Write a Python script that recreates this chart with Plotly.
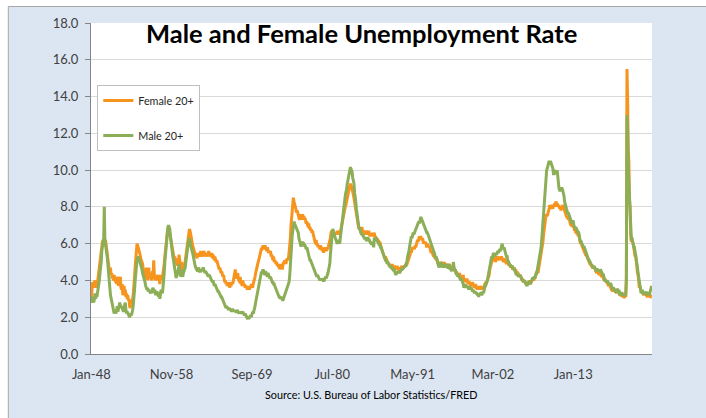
import plotly.graph_objects as go

start_year = 1948
tick_labels = ["Jan-48", "Nov-58", "Sep-69", "Jul-80", "May-91", "Mar-02", "Jan-13"]
tick_step = 130  # months between labels

female_20 = [
    3.0, 3.7, 3.9, 3.8, 3.6, 3.9, 4.0, 3.7, 3.8, 3.6, 3.9, 4.0,  # 1948
    4.2, 4.5, 4.9, 5.3, 5.6, 5.9, 6.1, 6.2, 5.9, 6.3, 6.0, 6.2,  # 1949
    5.9, 5.6, 5.4, 5.1, 4.9, 4.6, 4.5, 4.7, 4.3, 4.4, 4.1, 4.2,  # 1950
    4.0, 4.3, 4.1, 3.9, 4.2, 3.8, 4.0, 4.2, 3.7, 3.9, 4.1, 4.2,  # 1951
    3.6, 3.5, 3.8, 3.2, 3.4, 3.7, 3.3, 3.5, 3.1, 3.3, 3.0, 3.2,  # 1952
    2.9, 3.0, 2.6, 2.5, 2.8, 2.7, 2.9, 3.0, 3.3, 3.6, 4.2, 4.8,  # 1953
    5.3, 5.7, 6.0, 5.9, 5.8, 5.7, 5.5, 5.4, 5.2, 5.1, 5.0, 4.9,  # 1954
    4.6, 4.4, 4.6, 4.3, 4.1, 4.7, 4.2, 4.0, 4.3, 4.7, 4.2, 4.1,  # 1955
    4.3, 4.0, 4.2, 4.5, 4.1, 5.1, 4.3, 4.0, 4.2, 4.1, 4.3, 4.2,  # 1956
    4.0, 4.3, 4.1, 3.8, 4.2, 4.0, 4.3, 4.1, 4.4, 4.6, 4.9, 5.3,  # 1957
    5.7, 6.1, 6.3, 6.6, 6.8, 6.9, 6.8, 6.6, 6.3, 6.0, 5.8, 5.6,  # 1958
    5.6, 5.4, 5.2, 5.3, 5.0, 4.9, 5.1, 4.8, 5.2, 4.9, 5.4, 5.1,  # 1959
    4.8, 4.6, 5.0, 4.7, 4.5, 4.8, 4.9, 4.8, 5.1, 5.3, 5.6, 5.9,  # 1960
    6.2, 6.4, 6.6, 6.8, 6.7, 6.5, 6.3, 6.0, 5.9, 5.8, 5.7, 5.5,  # 1961
    5.5, 5.3, 5.4, 5.2, 5.5, 5.3, 5.4, 5.3, 5.4, 5.6, 5.3, 5.4,  # 1962
    5.5, 5.3, 5.6, 5.5, 5.3, 5.5, 5.4, 5.3, 5.5, 5.4, 5.6, 5.3,  # 1963
    5.5, 5.4, 5.3, 5.5, 5.2, 5.4, 5.2, 5.1, 5.3, 5.1, 5.0, 5.1,  # 1964
    5.0, 4.9, 4.8, 4.6, 4.7, 4.5, 4.4, 4.5, 4.3, 4.2, 4.3, 4.1,  # 1965
    3.9, 4.0, 3.8, 3.9, 3.7, 3.8, 3.7, 3.9, 3.6, 3.8, 3.7, 3.8,  # 1966
    3.9, 3.8, 4.0, 4.1, 4.3, 4.6, 4.2, 4.1, 4.3, 4.4, 4.1, 4.0,  # 1967
    3.9, 4.2, 3.8, 3.9, 3.7, 4.0, 3.9, 3.7, 3.8, 3.6, 3.7, 3.6,  # 1968
    3.6, 3.5, 3.7, 3.6, 3.5, 3.7, 3.6, 3.8, 3.7, 3.6, 3.8, 3.9,  # 1969
    4.0, 4.2, 4.4, 4.6, 4.8, 4.9, 5.0, 5.1, 5.3, 5.4, 5.6, 5.7,  # 1970
    5.7, 5.8, 5.9, 5.7, 5.8, 5.9, 5.8, 5.7, 5.6, 5.8, 5.7, 5.5,  # 1971
    5.6, 5.5, 5.6, 5.3, 5.4, 5.2, 5.1, 5.3, 5.0, 5.1, 5.0, 4.9,  # 1972
    5.0, 4.8, 4.9, 4.7, 4.9, 4.6, 4.8, 4.7, 4.9, 4.6, 4.8, 5.0,  # 1973
    4.9, 5.1, 5.0, 4.9, 5.1, 5.2, 5.1, 5.2, 5.5, 5.8, 6.2, 6.9,  # 1974
    7.4, 7.9, 8.2, 8.5, 8.3, 8.2, 8.0, 7.9, 7.7, 7.8, 7.7, 7.6,  # 1975
    7.5, 7.3, 7.4, 7.6, 7.3, 7.5, 7.6, 7.4, 7.5, 7.3, 7.4, 7.2,  # 1976
    7.1, 7.2, 7.0, 6.9, 7.1, 6.8, 6.9, 6.7, 6.8, 6.6, 6.7, 6.5,  # 1977
    6.3, 6.2, 6.1, 6.0, 6.2, 5.9, 6.0, 5.8, 5.9, 5.8, 5.7, 5.9,  # 1978
    5.8, 5.7, 5.6, 5.8, 5.5, 5.7, 5.6, 5.8, 5.7, 5.6, 5.8, 5.7,  # 1979
    5.9, 6.0, 6.1, 6.3, 6.6, 6.7, 6.6, 6.5, 6.6, 6.5, 6.6, 6.5,  # 1980
    6.6, 6.5, 6.7, 6.6, 6.5, 6.6, 6.7, 6.6, 6.8, 7.0, 7.2, 7.4,  # 1981
    7.6, 7.7, 7.9, 8.0, 8.1, 8.3, 8.4, 8.6, 8.8, 8.9, 9.1, 9.2,  # 1982
    9.2, 9.1, 9.0, 8.8, 8.7, 8.5, 8.3, 8.1, 7.9, 7.6, 7.3, 7.1,  # 1983
    7.0, 6.8, 6.9, 6.8, 6.7, 6.8, 6.9, 6.7, 6.6, 6.7, 6.6, 6.5,  # 1984
    6.6, 6.7, 6.6, 6.5, 6.6, 6.7, 6.5, 6.4, 6.5, 6.6, 6.4, 6.5,  # 1985
    6.4, 6.5, 6.6, 6.3, 6.4, 6.3, 6.2, 6.3, 6.1, 6.2, 6.0, 6.1,  # 1986
    5.9, 5.8, 5.7, 5.6, 5.5, 5.4, 5.3, 5.2, 5.3, 5.2, 5.1, 5.0,  # 1987
    5.0, 4.9, 4.8, 4.9, 4.8, 4.7, 4.8, 4.9, 4.7, 4.8, 4.7, 4.8,  # 1988
    4.7, 4.6, 4.7, 4.8, 4.6, 4.7, 4.5, 4.6, 4.7, 4.6, 4.8, 4.7,  # 1989
    4.6, 4.7, 4.8, 4.7, 4.8, 4.9, 4.8, 4.9, 5.0, 5.0, 5.1, 5.2,  # 1990
    5.4, 5.6, 5.5, 5.7, 5.8, 5.7, 5.8, 5.7, 5.9, 5.8, 5.9, 6.0,  # 1991
    6.2, 6.1, 6.3, 6.4, 6.3, 6.4, 6.3, 6.2, 6.3, 6.1, 6.0, 6.1,  # 1992
    6.0, 6.1, 5.9, 5.8, 6.0, 5.9, 5.8, 5.9, 5.7, 5.6, 5.5, 5.6,  # 1993
    5.5, 5.4, 5.3, 5.5, 5.2, 5.3, 5.1, 5.2, 5.0, 4.9, 5.0, 4.9,  # 1994
    4.9, 4.8, 4.9, 5.0, 4.8, 4.9, 4.8, 5.0, 4.9, 4.8, 4.7, 4.9,  # 1995
    4.8, 4.9, 4.7, 4.8, 4.9, 4.7, 4.8, 4.6, 4.7, 4.8, 4.6, 4.7,  # 1996
    4.5, 4.6, 4.4, 4.5, 4.3, 4.4, 4.3, 4.2, 4.4, 4.2, 4.1, 4.2,  # 1997
    4.2, 4.1, 4.3, 4.0, 4.1, 3.9, 4.1, 4.0, 4.1, 3.9, 3.8, 3.9,  # 1998
    3.9, 3.8, 3.7, 3.8, 3.7, 3.9, 3.8, 3.7, 3.6, 3.7, 3.8, 3.6,  # 1999
    3.6, 3.5, 3.7, 3.5, 3.6, 3.5, 3.7, 3.6, 3.5, 3.6, 3.5, 3.6,  # 2000
    3.7, 3.8, 3.9, 3.8, 3.9, 4.0, 4.1, 4.2, 4.3, 4.6, 4.8, 5.0,  # 2001
    5.0, 5.1, 5.2, 5.3, 5.1, 5.2, 5.0, 5.1, 5.2, 5.3, 5.2, 5.1,  # 2002
    5.2, 5.1, 5.3, 5.2, 5.3, 5.2, 5.1, 5.0, 5.2, 5.1, 5.0, 5.0,  # 2003
    4.9, 5.0, 5.0, 4.9, 4.8, 4.9, 4.8, 4.7, 4.8, 4.7, 4.6, 4.7,  # 2004
    4.6, 4.7, 4.5, 4.6, 4.4, 4.5, 4.3, 4.4, 4.3, 4.2, 4.3, 4.1,  # 2005
    4.1, 4.0, 4.1, 4.0, 3.9, 4.0, 3.9, 3.8, 3.9, 3.8, 3.9, 3.8,  # 2006
    3.9, 4.0, 3.9, 3.8, 3.9, 4.0, 4.0, 4.1, 4.0, 4.1, 4.2, 4.3,  # 2007
    4.3, 4.4, 4.5, 4.4, 4.6, 4.7, 4.9, 5.1, 5.3, 5.5, 5.8, 6.1,  # 2008
    6.5, 6.9, 7.1, 7.3, 7.5, 7.6, 7.5, 7.6, 7.7, 7.9, 8.1, 7.9,  # 2009
    8.0, 8.1, 8.0, 7.9, 8.1, 8.0, 8.2, 8.0, 8.3, 8.1, 8.2, 8.0,  # 2010
    8.0, 8.1, 7.9, 8.0, 7.8, 8.0, 7.9, 8.1, 8.0, 7.8, 7.7, 7.6,  # 2011
    7.6, 7.5, 7.4, 7.5, 7.3, 7.4, 7.3, 7.2, 7.0, 7.1, 6.9, 7.0,  # 2012
    7.0, 6.9, 6.7, 6.8, 6.6, 6.7, 6.5, 6.6, 6.4, 6.5, 6.2, 6.1,  # 2013
    6.0, 6.1, 5.9, 5.8, 5.7, 5.7, 5.6, 5.5, 5.4, 5.4, 5.3, 5.2,  # 2014
    5.1, 5.0, 5.0, 4.9, 4.9, 4.8, 4.8, 4.7, 4.7, 4.8, 4.7, 4.6,  # 2015
    4.6, 4.5, 4.4, 4.5, 4.4, 4.4, 4.3, 4.4, 4.3, 4.3, 4.2, 4.3,  # 2016
    4.2, 4.1, 4.0, 4.1, 4.0, 3.9, 3.9, 3.9, 3.8, 3.7, 3.8, 3.7,  # 2017
    3.6, 3.6, 3.5, 3.5, 3.4, 3.6, 3.5, 3.4, 3.4, 3.4, 3.3, 3.4,  # 2018
    3.4, 3.3, 3.4, 3.2, 3.3, 3.2, 3.2, 3.2, 3.1, 3.2, 3.1, 3.1,  # 2019
    3.2, 3.1, 4.2, 15.5, 13.9, 11.2, 10.5, 8.4, 8.0, 6.5, 6.1, 6.3,  # 2020
    6.0, 6.0, 5.8, 5.6, 5.3, 5.4, 5.0, 4.8, 4.4, 4.3, 3.9, 3.6,  # 2021
    3.7, 3.5, 3.4, 3.4, 3.4, 3.3, 3.2, 3.3, 3.2, 3.3, 3.2, 3.1,  # 2022
    3.1, 3.2, 3.2, 3.1, 3.2, 3.2, 3.1, 3.1,                      # 2023
]

male_20 = [
    2.9, 2.8, 3.1, 3.0, 2.8, 3.0, 3.3, 3.0, 3.2, 3.1, 3.3, 3.5,  # 1948
    3.6, 4.0, 4.4, 4.6, 5.0, 5.6, 6.0, 6.1, 6.2, 8.0, 6.2, 6.0,  # 1949
    5.8, 5.5, 5.2, 4.8, 4.2, 3.9, 3.6, 3.2, 3.0, 2.8, 2.6, 2.5,  # 1950
    2.3, 2.2, 2.3, 2.4, 2.2, 2.5, 2.6, 2.3, 2.4, 2.6, 2.8, 2.5,  # 1951
    2.5, 2.6, 2.5, 2.4, 2.3, 2.5, 2.6, 2.8, 2.4, 2.2, 2.3, 2.2,  # 1952
    2.1, 2.0, 2.0, 2.1, 2.2, 2.1, 2.2, 2.4, 2.7, 3.0, 3.5, 4.0,  # 1953
    4.5, 4.9, 5.1, 5.2, 5.3, 5.2, 5.1, 5.0, 4.9, 4.7, 4.6, 4.4,  # 1954
    4.3, 4.1, 4.0, 3.9, 3.7, 3.6, 3.5, 3.6, 3.4, 3.5, 3.4, 3.3,  # 1955
    3.3, 3.4, 3.3, 3.5, 3.6, 3.4, 3.4, 3.5, 3.2, 3.3, 3.4, 3.3,  # 1956
    3.3, 3.1, 3.2, 3.0, 3.3, 3.5, 3.4, 3.3, 3.6, 3.9, 4.4, 5.0,  # 1957
    5.5, 6.0, 6.4, 6.8, 6.9, 7.0, 6.9, 6.8, 6.4, 6.1, 5.6, 5.5,  # 1958
    5.3, 5.1, 4.8, 4.5, 4.3, 4.2, 4.2, 4.3, 4.4, 4.6, 4.9, 4.3,  # 1959
    4.4, 4.2, 4.6, 4.3, 4.2, 4.4, 4.5, 4.6, 4.7, 5.0, 5.3, 5.6,  # 1960
    5.9, 6.2, 6.3, 6.2, 6.0, 5.9, 5.8, 5.6, 5.5, 5.3, 5.0, 4.9,  # 1961
    4.8, 4.7, 4.6, 4.6, 4.5, 4.6, 4.7, 4.5, 4.5, 4.5, 4.6, 4.5,  # 1962
    4.6, 4.7, 4.6, 4.5, 4.4, 4.5, 4.4, 4.3, 4.3, 4.3, 4.2, 4.3,  # 1963
    4.2, 4.1, 4.0, 4.0, 3.9, 4.0, 3.8, 3.7, 3.8, 3.7, 3.6, 3.6,  # 1964
    3.5, 3.4, 3.4, 3.3, 3.2, 3.2, 3.1, 3.1, 3.0, 2.9, 2.9, 2.8,  # 1965
    2.7, 2.6, 2.5, 2.6, 2.5, 2.5, 2.4, 2.5, 2.4, 2.4, 2.4, 2.3,  # 1966
    2.4, 2.4, 2.3, 2.4, 2.3, 2.4, 2.3, 2.3, 2.4, 2.3, 2.3, 2.2,  # 1967
    2.3, 2.2, 2.3, 2.2, 2.2, 2.3, 2.2, 2.2, 2.1, 2.2, 2.1, 2.0,  # 1968
    2.0, 1.9, 2.0, 1.9, 2.0, 2.1, 2.1, 2.0, 2.2, 2.3, 2.2, 2.3,  # 1969
    2.4, 2.6, 2.8, 3.0, 3.2, 3.4, 3.5, 3.7, 3.9, 4.0, 4.3, 4.4,  # 1970
    4.4, 4.5, 4.6, 4.5, 4.4, 4.3, 4.5, 4.4, 4.3, 4.2, 4.4, 4.3,  # 1971
    4.2, 4.1, 4.2, 4.0, 4.0, 3.9, 3.9, 3.8, 3.8, 3.7, 3.6, 3.5,  # 1972
    3.4, 3.3, 3.2, 3.2, 3.1, 3.1, 3.0, 3.1, 3.0, 3.0, 2.9, 3.0,  # 1973
    3.1, 3.2, 3.2, 3.3, 3.4, 3.5, 3.6, 3.7, 3.9, 4.2, 4.6, 5.2,  # 1974
    5.8, 6.4, 6.8, 7.0, 7.2, 7.1, 7.0, 6.9, 6.9, 6.8, 6.7, 6.6,  # 1975
    6.3, 6.1, 6.0, 5.9, 5.9, 6.0, 6.1, 6.0, 6.0, 5.9, 5.9, 5.8,  # 1976
    5.7, 5.8, 5.6, 5.4, 5.3, 5.2, 5.1, 5.1, 5.0, 4.9, 4.9, 4.8,  # 1977
    4.6, 4.5, 4.4, 4.3, 4.3, 4.2, 4.3, 4.2, 4.2, 4.1, 4.0, 4.1,  # 1978
    4.0, 4.1, 4.0, 4.0, 4.0, 4.0, 4.1, 4.2, 4.1, 4.3, 4.3, 4.4,  # 1979
    4.6, 4.7, 4.9, 5.4, 6.0, 6.3, 6.6, 6.8, 6.6, 6.5, 6.4, 6.3,  # 1980
    6.2, 6.1, 6.0, 6.1, 6.2, 6.1, 6.0, 6.3, 6.6, 7.0, 7.3, 7.7,  # 1981
    7.9, 8.1, 8.4, 8.6, 8.8, 8.9, 9.2, 9.4, 9.6, 9.8, 10.0, 10.1,  # 1982
    10.1, 10.0, 9.9, 9.6, 9.5, 9.3, 8.8, 8.6, 8.3, 7.9, 7.6, 7.2,  # 1983
    7.1, 6.9, 6.8, 6.8, 6.6, 6.5, 6.5, 6.5, 6.4, 6.4, 6.3, 6.3,  # 1984
    6.3, 6.2, 6.2, 6.3, 6.3, 6.2, 6.2, 6.1, 6.0, 6.0, 6.0, 6.1,  # 1985
    6.0, 5.8, 6.3, 6.2, 6.3, 6.3, 6.2, 6.1, 6.0, 6.0, 6.0, 5.8,  # 1986
    5.8, 5.8, 5.7, 5.5, 5.5, 5.4, 5.3, 5.2, 5.1, 5.1, 5.0, 4.9,  # 1987
    5.0, 4.9, 4.8, 4.8, 4.7, 4.8, 4.7, 4.6, 4.7, 4.5, 4.6, 4.5,  # 1988
    4.4, 4.3, 4.4, 4.5, 4.4, 4.5, 4.5, 4.4, 4.5, 4.6, 4.6, 4.6,  # 1989
    4.7, 4.7, 4.7, 4.8, 4.8, 4.8, 4.9, 5.1, 5.3, 5.4, 5.6, 5.8,  # 1990
    6.0, 6.2, 6.4, 6.3, 6.5, 6.6, 6.5, 6.6, 6.6, 6.7, 6.8, 6.9,  # 1991
    7.0, 7.1, 7.2, 7.1, 7.3, 7.4, 7.4, 7.3, 7.2, 7.1, 7.0, 6.9,  # 1992
    6.9, 6.7, 6.6, 6.6, 6.6, 6.5, 6.4, 6.3, 6.2, 6.2, 6.0, 5.9,  # 1993
    5.9, 5.8, 5.7, 5.6, 5.4, 5.2, 5.3, 5.2, 5.0, 5.0, 4.8, 4.7,  # 1994
    4.9, 4.8, 5.0, 4.9, 4.7, 4.8, 4.9, 4.8, 4.7, 4.8, 4.9, 4.8,  # 1995
    4.8, 4.7, 4.7, 4.9, 4.6, 4.7, 4.6, 4.5, 4.7, 4.5, 5.0, 4.7,  # 1996
    4.5, 4.6, 4.4, 4.3, 4.4, 4.2, 4.3, 4.2, 4.2, 4.1, 4.0, 4.1,  # 1997
    3.9, 3.9, 3.8, 3.6, 3.7, 3.8, 3.7, 3.7, 3.6, 3.7, 3.6, 3.5,  # 1998
    3.6, 3.7, 3.5, 3.6, 3.5, 3.4, 3.5, 3.4, 3.3, 3.4, 3.3, 3.3,  # 1999
    3.3, 3.2, 3.3, 3.1, 3.3, 3.2, 3.3, 3.3, 3.2, 3.3, 3.4, 3.3,  # 2000
    3.6, 3.7, 3.7, 3.9, 3.9, 4.0, 4.2, 4.4, 4.6, 4.8, 5.0, 5.2,  # 2001
    5.3, 5.2, 5.4, 5.5, 5.4, 5.3, 5.4, 5.5, 5.4, 5.5, 5.6, 5.5,  # 2002
    5.6, 5.7, 5.6, 5.8, 5.9, 6.0, 5.8, 5.7, 5.8, 5.6, 5.5, 5.4,  # 2003
    5.3, 5.3, 5.1, 5.0, 5.0, 4.9, 4.8, 4.8, 4.7, 4.8, 4.7, 4.6,  # 2004
    4.6, 4.6, 4.5, 4.5, 4.3, 4.4, 4.3, 4.2, 4.3, 4.2, 4.3, 4.2,  # 2005
    4.1, 4.0, 4.0, 4.0, 3.9, 4.0, 3.9, 3.9, 3.8, 3.7, 3.8, 3.8,  # 2006
    3.9, 3.9, 3.8, 3.9, 3.9, 4.0, 4.1, 4.1, 4.2, 4.2, 4.1, 4.3,  # 2007
    4.4, 4.4, 4.6, 4.7, 4.9, 5.1, 5.3, 5.6, 5.8, 6.2, 6.7, 7.2,  # 2008
    7.7, 8.1, 8.8, 9.1, 9.8, 10.0, 10.1, 10.2, 10.3, 10.5, 10.4, 10.5,  # 2009
    10.4, 10.3, 10.1, 10.1, 9.8, 9.8, 10.0, 9.9, 9.9, 9.8, 10.0, 9.6,  # 2010
    9.3, 9.0, 8.9, 8.9, 8.9, 9.0, 9.0, 8.9, 8.8, 8.6, 8.3, 8.1,  # 2011
    8.0, 7.9, 7.8, 7.6, 7.7, 7.6, 7.6, 7.5, 7.3, 7.2, 7.1, 7.2,  # 2012
    7.2, 7.0, 6.9, 6.8, 6.9, 6.8, 6.7, 6.7, 6.6, 6.6, 6.3, 6.2,  # 2013
    6.1, 6.1, 6.0, 5.9, 5.9, 5.8, 5.8, 5.7, 5.5, 5.4, 5.4, 5.3,  # 2014
    5.2, 5.1, 5.1, 5.0, 5.0, 4.9, 4.8, 4.8, 4.7, 4.7, 4.7, 4.7,  # 2015
    4.6, 4.5, 4.6, 4.6, 4.5, 4.6, 4.5, 4.5, 4.6, 4.5, 4.4, 4.3,  # 2016
    4.3, 4.3, 4.1, 4.0, 4.0, 3.9, 3.9, 4.0, 3.9, 3.8, 3.8, 3.8,  # 2017
    3.8, 3.8, 3.7, 3.6, 3.5, 3.6, 3.5, 3.5, 3.4, 3.4, 3.4, 3.5,  # 2018
    3.5, 3.4, 3.5, 3.2, 3.3, 3.3, 3.3, 3.3, 3.2, 3.3, 3.2, 3.2,  # 2019
    3.3, 3.2, 4.0, 13.0, 12.2, 10.2, 9.4, 8.0, 7.4, 6.5, 6.3, 6.3,  # 2020
    6.1, 5.9, 5.8, 5.8, 5.6, 5.5, 5.2, 4.9, 4.7, 4.4, 4.1, 3.8,  # 2021
    3.8, 3.5, 3.3, 3.4, 3.5, 3.3, 3.3, 3.3, 3.3, 3.3, 3.4, 3.2,  # 2022
    3.3, 3.3, 3.3, 3.2, 3.3, 3.4, 3.5, 3.7,                      # 2023
]

n = len(female_20)
months = list(range(n))
tick_vals = [i * tick_step for i in range(len(tick_labels))]

FONT = "Lato, 'Open Sans', sans-serif"
BLUE_BG = "#DCE6F2"

fig = go.Figure()
fig.add_trace(go.Scatter(x=months, y=female_20, mode="lines", name="Female 20+",
                         legendgroup="f",
                         line=dict(color="#F7941D", width=3)))
fig.add_trace(go.Scatter(x=months, y=male_20, mode="lines", name="Male 20+",
                         legendgroup="m",
                         line=dict(color="#8BAE57", width=3)))

# chart-area frame: white strips top/left with a grey edge
fig.add_shape(type="rect", xref="paper", yref="paper", x0=-0.3, x1=1.3, y0=1.0498, y1=1.2,
              fillcolor="white", line_width=0, layer="below")
fig.add_shape(type="rect", xref="paper", yref="paper", x0=-0.3, x1=-0.1474, y0=-0.4, y1=1.2,
              fillcolor="white", line_width=0, layer="below")
fig.add_shape(type="line", xref="paper", yref="paper", x0=-0.1474, x1=1.3, y0=1.0498, y1=1.0498,
              line=dict(color="#A6A6A6", width=1))
fig.add_shape(type="line", xref="paper", yref="paper", x0=-0.1474, x1=-0.1474, y0=-0.4, y1=1.0498,
              line=dict(color="#A6A6A6", width=1))

fig.add_annotation(text="<b>Male and Female Unemployment Rate</b>", xref="paper", yref="paper",
                   x=0.483, y=0.970, xanchor="center", yanchor="middle", showarrow=False,
                   font=dict(family=FONT, size=25.5, color="#000000"))
fig.add_annotation(text="Source: U.S. Bureau of Labor Statistics/FRED", xref="paper", yref="paper",
                   x=0.499, y=-0.121, xanchor="center", yanchor="middle", showarrow=False,
                   font=dict(family=FONT, size=10.8, color="#000000"))

fig.update_layout(
    width=706, height=418,
    margin=dict(l=91, r=54, t=23, b=64, pad=0),
    paper_bgcolor=BLUE_BG,
    plot_bgcolor="white",
    font=dict(family=FONT, size=13, color="#404040"),
    showlegend=True,
    legend=dict(x=0.0112, y=0.8127, xanchor="left", yanchor="top",
                bgcolor="white", bordercolor="#BFBFBF", borderwidth=1,
                font=dict(family=FONT, size=10.8, color="#262626"),
                tracegroupgap=16, itemwidth=30),
    xaxis=dict(range=[-0.5, n - 0.5], tickmode="array", tickvals=tick_vals, ticktext=tick_labels,
               showgrid=False, zeroline=False, showline=True, linecolor="#868686", linewidth=1,
               ticks="outside", ticklen=8, tickcolor="rgba(0,0,0,0)",
               tickfont=dict(family=FONT, size=13, color="#404040")),
    yaxis=dict(range=[0, 18], tickmode="linear", tick0=0, dtick=2, tickformat=".1f",
               showgrid=True, gridcolor="#D9D9D9", gridwidth=1, zeroline=False,
               showline=True, linecolor="#868686", linewidth=1,
               ticks="outside", ticklen=5, tickcolor="#868686", ticklabelstandoff=4,
               tickfont=dict(family=FONT, size=13, color="#404040")),
)

fig.write_html("out.html")
